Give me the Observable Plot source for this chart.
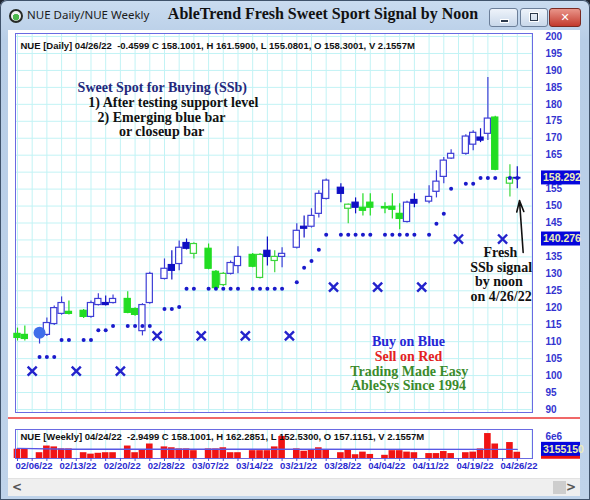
<!DOCTYPE html>
<html>
<head>
<meta charset="utf-8">
<script src="https://cdn.jsdelivr.net/npm/d3@7"></script>
<script src="https://cdn.jsdelivr.net/npm/@observablehq/plot@0.6"></script>
<style>
  html, body { margin: 0; padding: 0; background: #1d2430; }
  #win { position: absolute; left: 0; top: 0; width: 590px; height: 500px; overflow: hidden;
         background: linear-gradient(#cadcf0, #b8cee7 40px, #bfd3ea); border-radius: 7px 7px 0 0;
         box-shadow: inset 0 0 0 1px #40536b; }
  #icon { position: absolute; left: 9px; top: 9px; width: 10px; height: 10px; border-radius: 50%;
          border: 2px solid #262a26; background: radial-gradient(circle at 50% 62%, #4cb84c 0 38%, #f2f2f2 44%); }
  #appname { position: absolute; left: 27px; top: 7px; font: 11.5px "Noto Sans", sans-serif; color: #1b1b1b; }
  #title { position: absolute; left: 0; width: 646px; top: 5px; text-align: center;
           font: bold 16px "Liberation Serif", serif; color: #111; }
  .btn { position: absolute; top: 8px; height: 17px; border: 1px solid #6c7f99; border-radius: 3px;
         background: linear-gradient(#eef3fa, #c9d8ea); }
  #bmin { left: 489px; width: 27px; }
  #bmax { left: 520px; width: 26px; }
  #bclose { left: 549px; width: 30px; background: linear-gradient(#e9958a, #c33a2d); border-color: #7a2a22;
            color: #fff; font: bold 11px "DejaVu Sans", sans-serif; text-align: center; line-height: 17px; }
  #bmin span { position: absolute; left: 10px; top: 10px; width: 7px; height: 2px; background: #2d3a4c; border: 1px solid #fff; }
  #bmax span { position: absolute; left: 9px; top: 4px; width: 6px; height: 6px; border: 1.5px solid #2d3a4c; box-shadow: 0 0 0 1px #fff; }
  #client { position: absolute; left: 8px; top: 30px; width: 572px; height: 465px; background: #fff; }
  #price { position: absolute; left: 0; top: 0; }
  #sep { position: absolute; left: 0; top: 387px; width: 572px; height: 2px; background: #f06868; }
  #volume { position: absolute; left: 0; top: 389px; }
  #hscroll { position: absolute; left: 0; top: 448px; width: 572px; height: 17px; background: #efefef;
             border-top: 1px solid #e2e2e2; font: bold 12px "DejaVu Sans", sans-serif; color: #555; line-height: 17px; }
  #hscroll .l { position: absolute; left: 4px; top: 0; }
  #hscroll .r { position: absolute; right: 4px; top: 0; }
  #hscroll .thumb { position: absolute; left: 545px; top: 2px; width: 13px; height: 13px; background: #cdcdcd; }
  svg { overflow: visible; }
</style>
</head>
<body>
<div id="win">
  <div id="icon"></div>
  <div id="appname">NUE Daily/NUE Weekly</div>
  <div id="title">AbleTrend Fresh Sweet Sport Signal by Noon</div>
  <div class="btn" id="bmin"><span></span></div>
  <div class="btn" id="bmax"><span></span></div>
  <div class="btn" id="bclose">✕</div>
  <div id="client">
    <div id="price"></div>
    <div id="sep"></div>
    <div id="volume"></div>
    <div id="hscroll"><span class="l">&lt;</span><span class="thumb"></span><span class="r">&gt;</span></div>
  </div>
</div>
<script>
// Daily bars. "slot" is the trading-day position on the time axis; each weekend
// leaves one empty slot (that is where the weekly stop crosses are drawn).
const slots  = [0,1, 3,4,5,6,7, 9,10,11,12,13, 15,16,17,18, 20,21,22,23,24, 26,27,28,29,30,
                32,33,34,35,36, 38,39,40,41,42, 44,45,46,47,48, 50,51,52,53,54, 56,57,58,59,
                61,62,63,64,65, 67,68];
const opens  = [112.3,112.0, 112.0,112.0,115.2,118.2,118.8, 119.1,117.3,120.8,121.4,121.4, 122.6,119.6,113.1,121.4,
                128.5,132.6,132.9,139.1,135.9, 137.4,130.6,126.7,130.0,132.3, 135.6,128.8,136.8,133.8,135.0,
                137.7,143.9,143.9,147.7,152.1, 155.4,149.2,151.0,149.5,151.0, 149.7,149.8,147.7,145.3,151.8,
                151.3,154.2,158.6,164.0, 165.4,168.1,170.2,171.3,176.1, 156.6,158.3001];
const highs  = [114.0,114.6, 114.0,117.0,120.5,123.2,122.0, 119.5,122.0,124.1,123.5,123.8, 124.7,120.0,121.2,130.5,
                134.4,136.8,139.7,140.3,139.2, 138.8,131.0,130.4,133.8,138.0, 136.0,136.0,140.9,136.8,137.7,
                144.8,147.1,149.2,154.5,158.0, 156.6,150.6,152.4,153.6,153.6, 151.0,153.6,150.7,151.4,153.6,
                156.0,160.4,164.3,166.6, 171.0,172.2,172.8,187.9,176.5, 162.2,161.59];
const lows   = [110.2,110.2, 109.3,111.5,114.8,117.8,117.9, 116.8,116.9,120.5,120.5,121.1, 118.2,117.5,111.7,121.0,
                128.2,128.2,130.9,137.0,134.4, 131.2,125.5,126.3,129.7,130.0, 131.8,128.5,132.3,130.3,131.8,
                137.3,140.6,143.5,146.5,151.8, 151.0,144.8,147.7,147.1,147.1, 147.7,146.2,143.0,145.0,149.5,
                150.7,152.4,156.6,163.7, 165.0,166.3,168.7,169.3,160.4, 152.7,155.0801];
const closes = [111.1,110.8, 113.0,115.5,119.9,121.4,118.2, 117.3,121.4,122.6,120.8,122.6, 118.5,117.9,120.8,130.0,
                131.5,130.9,137.7,137.4,138.8, 131.5,125.8,130.0,133.2,135.0, 132.1,135.6,135.0,135.0,135.9,
                142.7,143.3,147.1,153.6,157.5, 153.6,150.4,149.5,148.6,149.5, 149.3,148.9,146.2,151.0,150.7,
                152.7,157.2,163.4,165.4, 170.5,171.6,169.3,175.8,160.7, 158.3,158.1001];
// AbleTrend colour of each bar: b = blue (up trend), g = green (neutral)
const trend  = ["g","g", "b","b","b","b","g", "g","b","b","b","b", "g","g","b","b",
                "b","b","b","b","g", "g","g","g","b","b", "g","g","b","g","b",
                "b","b","b","b","b", "b","g","b","g","g", "g","g","g","b","b",
                "b","b","b","b", "b","b","b","b","g", "g","b"];
const volumes = [3.2e6,3.2e6, 2.0e6,4.3e6,4.0e6,3.3e6,3.3e6, 2.0e6,1.5e6,1.8e6,2.0e6,2.0e6, 4.3e6,2.0e6,3.0e6,5.0e6,
                 4.0e6,3.7e6,3.3e6,3.3e6,2.7e6, 3.3e6,3.3e6,3.7e6,2.0e6,2.0e6, 2.7e6,2.7e6,2.7e6,4.0e6,7.6e6,
                 3.3e6,2.5e6,3.0e6,3.7e6,3.0e6, 2.0e6,3.0e6,1.3e6,2.2e6,1.4e6, 1.1e6,2.7e6,2.7e6,2.2e6,2.0e6,
                 1.7e6,1.7e6,2.4e6,1.7e6, 2.0e6,2.2e6,3.3e6,8.6e6,5.0e6, 5.5e6,2155700];

// Daily trailing stop (small dots)
const stopSlots  = [3,4,5, 6,7,9,10, 11,12, 13,15,16,17,18, 20,21, 22,
                    23,24,26,27,28,29,30,32,33,34,35,36, 38, 39, 40, 41,
                    42,44,45,46,47,48,50,51,52,53,54,56, 57, 58, 59, 61,62, 63,64,65,67,68];
const stopValues = [105.5,105.5,105.5, 110.5,110.5,110.5,110.5, 113.4,113.4, 114.6,114.6,114.6,114.6,114.6, 119.6,119.6, 120.2,
                    125.6,125.6,125.6,125.6,125.6,125.6,125.6,125.6,125.6,125.6,125.6,125.6, 127.5, 131.8, 133.8, 137.1,
                    141.5,141.5,141.5,141.5,141.5,141.5,141.5,141.5,141.5,141.5,141.5,141.5, 144.8, 147.7, 155.1, 156.6,156.6,
                    158.292,158.292,158.292,158.292,158.292];
// Weekly stop (crosses, one per weekend)
const weeklySlots  = [2,8,14, 19,25,31,37, 43,49,55, 60,66];
const weeklyValues = [101.3,101.3,101.3, 111.7,111.7,111.7,111.7, 126.1,126.1,126.1, 140.276,140.276];
// Sweet-spot buy signal
const signalSlots  = [3];
const signalValues = [112.6];

// Average volume line
const avgVolSlots  = [0, 7, 68];
const avgVolValues = [3.5e6, 3.2e6, 3155150];

const priceTicks = d3.range(90, 201, 5);
// axis labels that sit under the two stop-value tags are left out
const priceLabelTicks = priceTicks.filter(t => t !== 140 && t !== 160);
const dateSlots  = [0,6,12,18,24,30,36,42,48,54,60,66];
const dateLabels = ["02/06/22","02/13/22","02/20/22","02/28/22","03/07/22","03/14/22",
                    "03/21/22","03/28/22","04/04/22","04/11/22","04/19/22","04/26/22"];

const dailyHeader  = "NUE [Daily] 04/26/22\u00a0 -0.4599 C 158.1001, H 161.5900, L 155.0801, O 158.3001, V 2.1557M";
const weeklyHeader = "NUE [Weekly] 04/24/22\u00a0 -2.9499 C 158.1001, H 162.2851, L 152.5300, O 157.1151, V 2.1557M";

// Text notes on the price panel
const noteText  = ["Sweet Spot for Buying (SSb)", "1) After testing support level", "2) Emerging blue bar", "or closeup bar",
                   "Fresh", "SSb signal", "by noon", "on 4/26/22",
                   "Buy on Blue", "Sell on Red", "Trading Made Easy", "AbleSys Since 1994"];
const noteSlot  = [19.7, 21.2, 19.6, 19.6, 65.7, 65.8, 65.5, 65.8, 53.2, 53.2, 53.3, 53.2];
const notePrice = [184.96, 180.59, 176.22, 171.86, 136.3, 131.9, 127.6, 123.2, 110.03, 105.66, 101.3, 96.93];
const noteColor = ["#24287c","#111","#111","#111", "#111","#111","#111","#111",
                   "#2626d6","#e42222","#3b8a2b","#3b8a2b"];
const arrowFrom = [68.8, 136.3];
const arrowTo   = [68.3, 151.6];

// ---------------------------------------------------------------
const BLUE_LINE = "#3e3ed6", BLUE_FILL = "#0f0fc4", GREEN = "#22dd22", GRID = "#c2f3f5";
const bars = slots.map((s, i) => ({slot: s, open: opens[i], high: highs[i], low: lows[i], close: closes[i],
                                   trend: trend[i], volume: volumes[i]}));
const stops   = stopSlots.map((s, i) => ({slot: s, value: stopValues[i]}));
const weekly  = weeklySlots.map((s, i) => ({slot: s, value: weeklyValues[i]}));
const signals = signalSlots.map((s, i) => ({slot: s, value: signalValues[i]}));
const avgVol  = avgVolSlots.map((s, i) => ({slot: s, value: avgVolValues[i]}));
const notes   = noteText.map((t, i) => ({text: t, slot: noteSlot[i], price: notePrice[i], color: noteColor[i]}));
const dateMap = new Map(dateSlots.map((s, i) => [s, dateLabels[i]]));
const evenSlots = d3.range(0, 71, 2);

const up = d => d.close >= d.open;
const lineColor = d => d.trend === "g" ? (up(d) ? "#3cd63c" : GREEN) : (up(d) ? BLUE_LINE : BLUE_FILL);
const bodyFill  = d => up(d) ? "#ffffff" : (d.trend === "g" ? GREEN : BLUE_FILL);

const xDomain = [-0.27, 70.07];
const textStyle = {fontFamily: "Liberation Sans", fontWeight: "bold"};

const price = Plot.plot({
  width: 572, height: 388,
  marginLeft: 7, marginRight: 48, marginTop: 3, marginBottom: 6,
  x: {domain: xDomain, axis: null},
  y: {domain: [89.11, 200.89]},
  color: {type: "identity"},
  style: {background: "transparent", fontFamily: "Liberation Sans", overflow: "visible"},
  marks: [
    Plot.ruleY(priceTicks, {stroke: GRID}),
    Plot.ruleX(evenSlots, {stroke: GRID}),
    Plot.frame({stroke: "#6a6ae2"}),
    Plot.axisY({ticks: priceLabelTicks, anchor: "right", label: null, tickSize: 0, tickPadding: 13, color: "#3434d0",
                fontSize: 10, ...textStyle}),
    Plot.text([dailyHeader], {frameAnchor: "top-left", dx: 5, dy: 9, fontSize: 9.5, fill: "#111", ...textStyle}),
    Plot.ruleX(bars, {x: "slot", y1: "low", y2: "high", stroke: lineColor, strokeWidth: 1.2}),
    Plot.rect(bars, {x1: d => d.slot - 0.42, x2: d => d.slot + 0.42, y1: "open", y2: "close",
                     fill: bodyFill, stroke: lineColor, strokeWidth: 1.2}),
    Plot.dot(stops, {x: "slot", y: "value", r: 2, fill: "#1a1acb"}),
    Plot.dot(weekly, {x: "slot", y: "value", symbol: "times", r: 4.2, stroke: "#2323cc", strokeWidth: 2.4}),
    Plot.dot(signals, {x: "slot", y: "value", r: 6, fill: "#3f6eea"}),
    Plot.text(notes, {x: "slot", y: "price", text: "text", fill: "color", fontFamily: "Liberation Serif",
                      fontWeight: "bold", fontSize: 14}),
    Plot.arrow([{x1: arrowFrom[0], y1: arrowFrom[1], x2: arrowTo[0], y2: arrowTo[1]}],
               {x1: "x1", y1: "y1", x2: "x2", y2: "y2", stroke: "#111", strokeWidth: 1.6,
                headLength: 11, headAngle: 35})
  ]
});

const volume = Plot.plot({
  width: 572, height: 59,
  marginLeft: 7, marginRight: 48, marginTop: 10, marginBottom: 20,
  x: {domain: xDomain},
  y: {domain: [0, 1e7]},
  color: {type: "identity"},
  style: {background: "transparent", fontFamily: "Liberation Sans", overflow: "visible"},
  marks: [
    Plot.ruleX(evenSlots, {stroke: GRID}),
    Plot.rectY(bars, {x1: d => d.slot - 0.45, x2: d => d.slot + 0.45, y: "volume", fill: "#f01414"}),
    Plot.line(avgVol, {x: "slot", y: "value", stroke: "#5858e4", strokeWidth: 1.4}),
    Plot.frame({stroke: "#6a6ae2"}),
    Plot.text([weeklyHeader], {frameAnchor: "top-left", dx: 5, dy: 4, fontSize: 9.5, fill: "#111", ...textStyle}),
    Plot.axisY({ticks: [6e6], tickFormat: () => "6e6", anchor: "right", label: null, tickSize: 0, tickPadding: 13,
                dy: -4, color: "#3434d0", fontSize: 10, ...textStyle}),
    Plot.axisX({ticks: evenSlots.filter(s => s <= 68), tickFormat: () => "", label: null, tickSize: 3, color: "#4a4ad8"}),
    Plot.axisX({ticks: dateSlots, tickFormat: d => dateMap.get(d), label: null, tickSize: 0, tickPadding: 4,
                textAnchor: "start", dx: -2, color: "#2b2bd0", fontSize: 9.5, ...textStyle})
  ]
});

// Value tags on the right-hand axis, placed through each panel's y scale
function valueTag(chart, value, label, bg, fg) {
  const y = chart.scale("y").apply(value);
  const g = d3.select(chart).append("g").attr("text-anchor", "start");
  g.append("rect").attr("x", 533).attr("y", y - 7).attr("width", 39).attr("height", 14).attr("fill", bg);
  if (label) {
    g.append("text").attr("x", 535).attr("y", y).attr("dy", "0.36em").attr("text-anchor", "start")
      .attr("fill", fg).attr("font-family", "Liberation Sans").attr("font-weight", "bold")
      .attr("font-size", 10.5).text(label);
  }
}
valueTag(price, stopValues[stopValues.length - 1], "158.292", "#0606dc", "#ececb8");
valueTag(price, weeklyValues[weeklyValues.length - 1], "140.276", "#0606dc", "#ececb8");
valueTag(volume, volumes[volumes.length - 1], "", "#ee1010", "#fff");
valueTag(volume, avgVolValues[avgVolValues.length - 1], "3155150", "#0606dc", "#ececb8");

document.getElementById("price").append(price);
document.getElementById("volume").append(volume);
</script>
</body>
</html>
